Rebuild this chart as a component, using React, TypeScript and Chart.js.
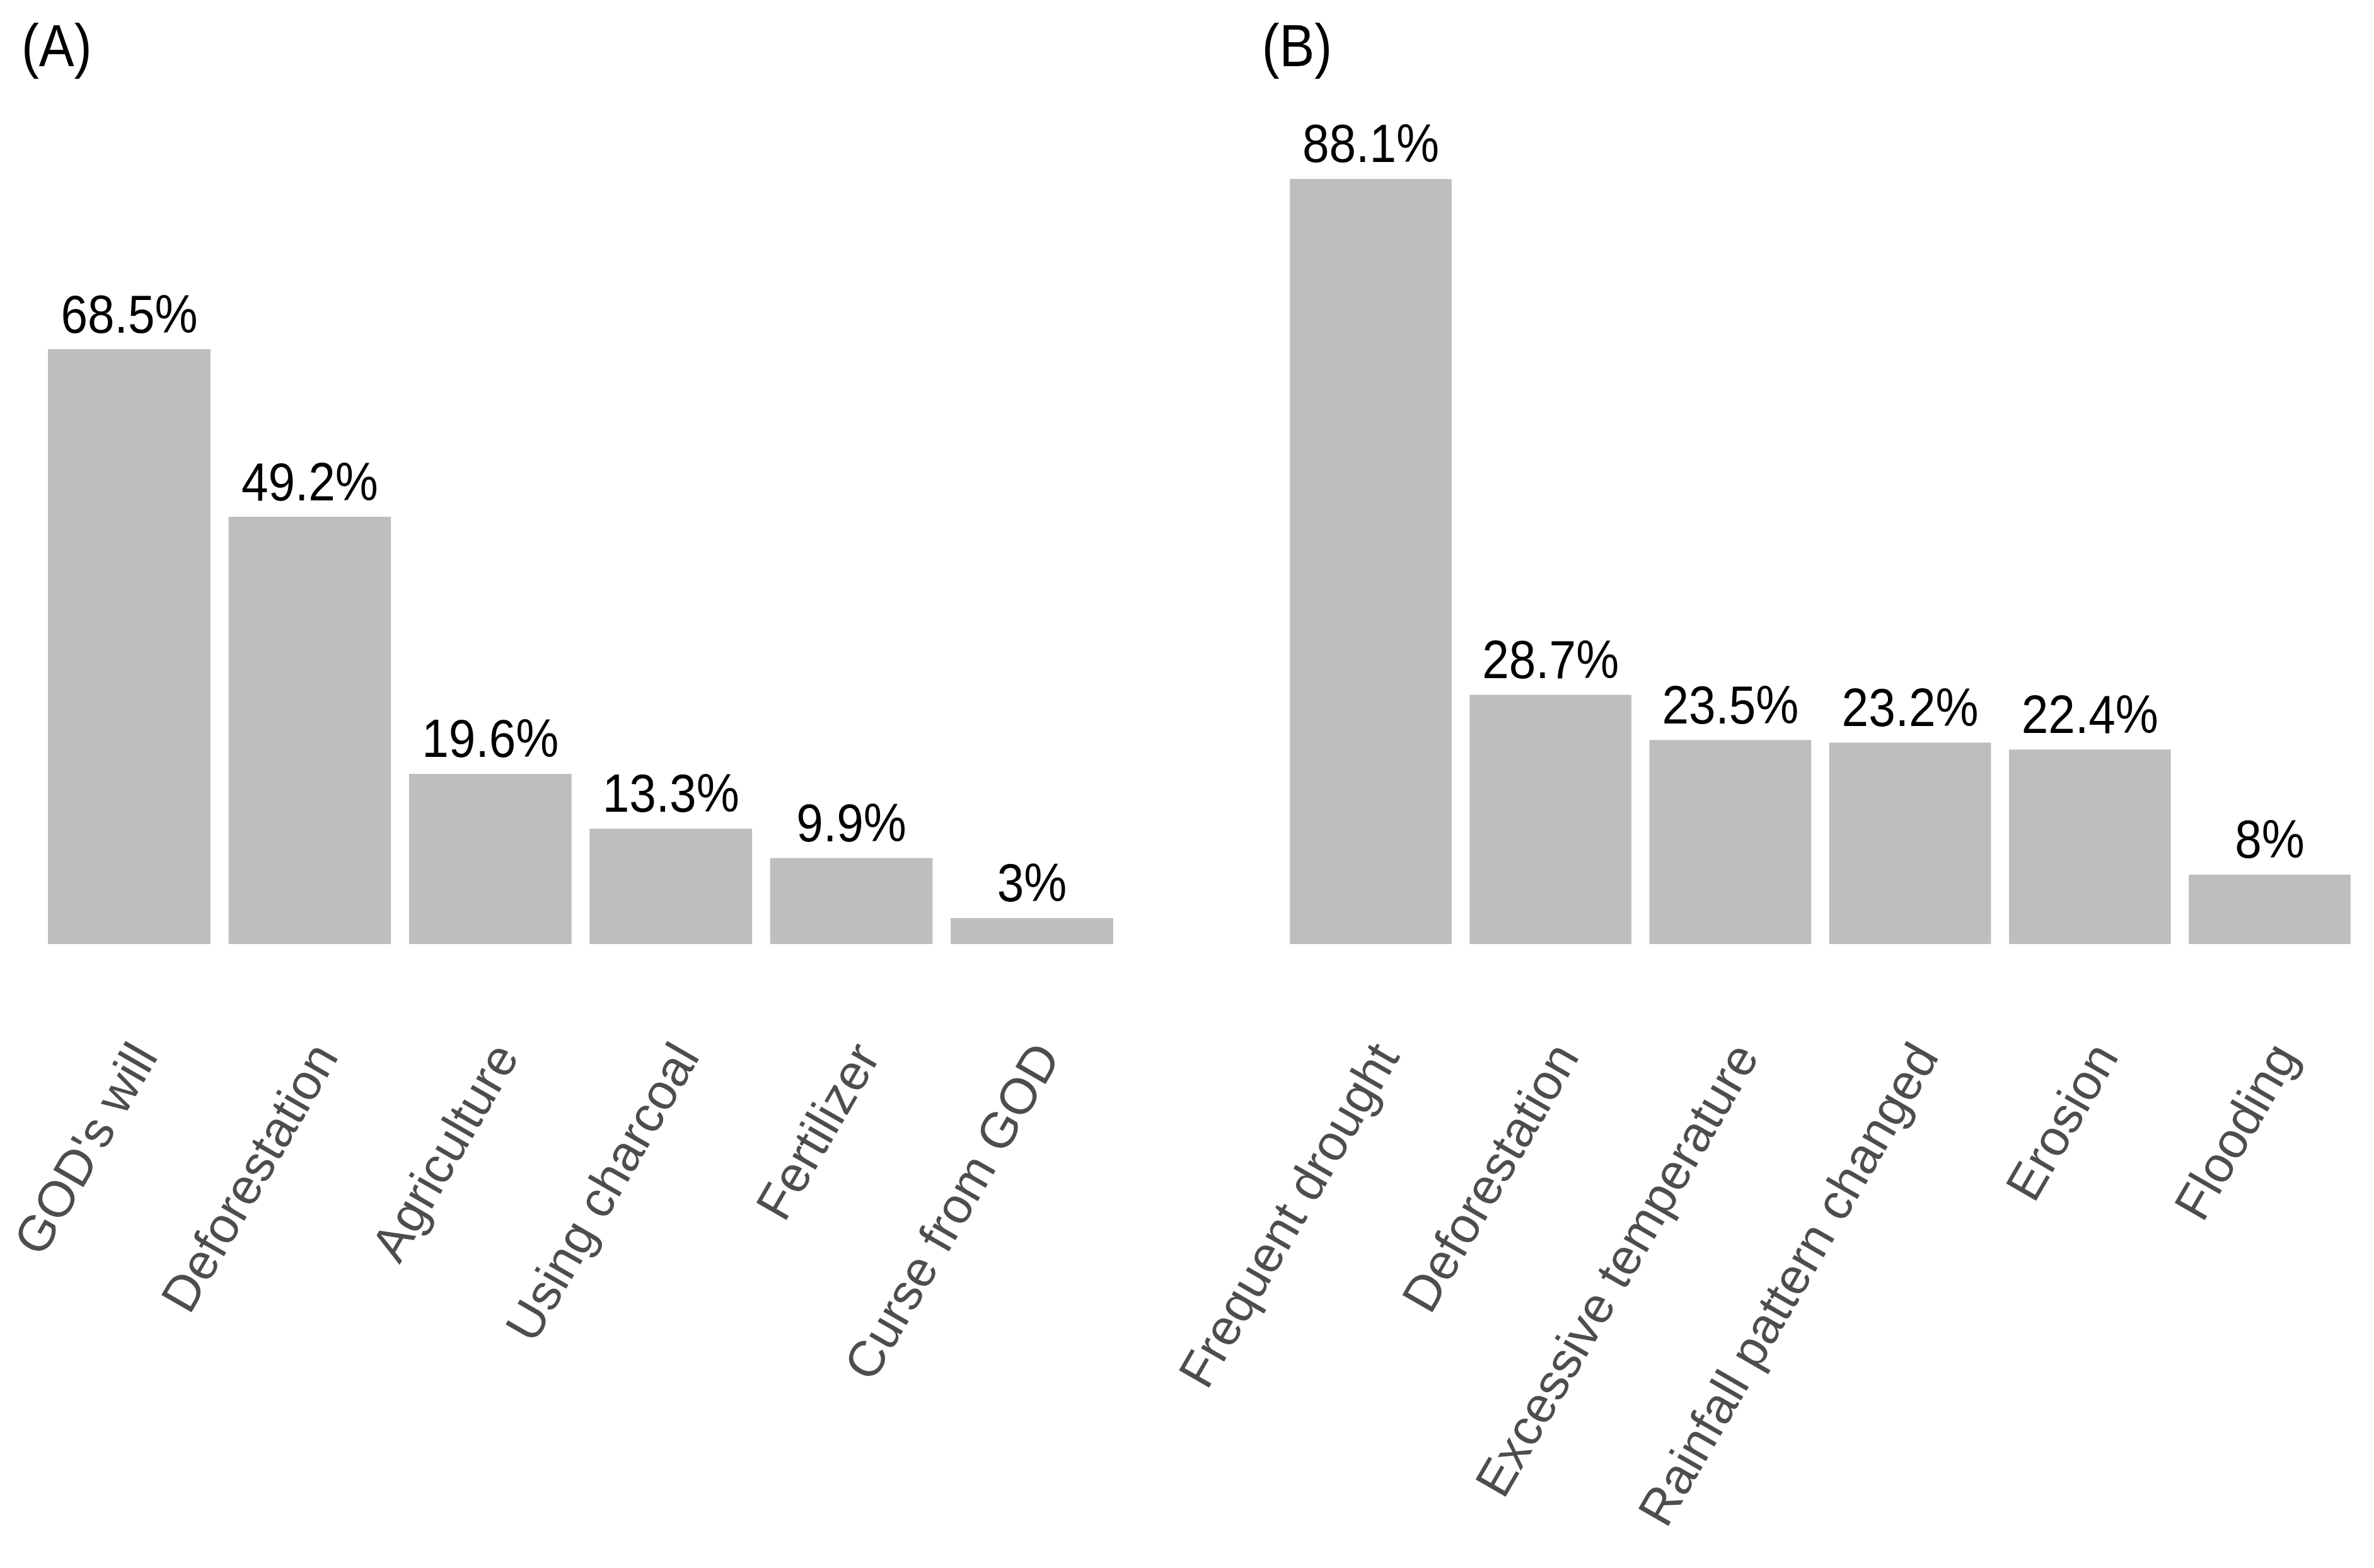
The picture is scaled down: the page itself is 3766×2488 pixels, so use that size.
import React, { useEffect, useRef } from 'react';
import { Chart, registerables } from 'chart.js';

Chart.register(...registerables);

// ---- Data ----
const categoriesA = ["GOD's will", 'Deforestation', 'Agriculture', 'Using charcoal', 'Fertilizer', 'Curse from GOD'];
const valuesA = [68.5, 49.2, 19.6, 13.3, 9.9, 3];

const categoriesB = ['Frequent drought', 'Deforestation', 'Excessive temperature', 'Rainfall pattern changed', 'Erosion', 'Flooding'];
const valuesB = [88.1, 28.7, 23.5, 23.2, 22.4, 8];

const panelTitles = ['(A)', '(B)'];
const yMin = 0;
const yMax = 100;

const FONT = "'Liberation Sans', Arial, Helvetica, sans-serif";
const BAR_COLOR = '#BEBEBE';
const TICK_COLOR = '#4D4D4D';
const H = 2488;

function labelPlugin(title: string, titleX: number) {
  return {
    id: 'valueLabels',
    afterDatasetsDraw(chart: any) {
      const ctx = chart.ctx;
      const meta = chart.getDatasetMeta(0);
      const data = chart.data.datasets[0].data as number[];
      ctx.save();
      ctx.fillStyle = '#000000';
      ctx.font = `86px ${FONT}`;
      ctx.textAlign = 'center';
      ctx.textBaseline = 'alphabetic';
      meta.data.forEach((bar: any, i: number) => {
        ctx.save();
        ctx.translate(bar.x, bar.y - 26.5);
        ctx.scale(0.89, 1);
        ctx.fillText(`${data[i]}%`, 0, 0);
        ctx.restore();
      });
      ctx.restore();
    },
    afterDraw(chart: any) {
      const ctx = chart.ctx;
      ctx.save();
      ctx.fillStyle = '#000000';
      ctx.font = `94px ${FONT}`;
      ctx.textAlign = 'left';
      ctx.textBaseline = 'alphabetic';
      ctx.translate(titleX, 104.5);
      ctx.scale(0.89, 1);
      ctx.fillText(title, 0, 0);
      ctx.restore();
    },
  };
}

function makeConfig(labels: string[], values: number[], padLeft: number, padRight: number, title: string, titleX: number): any {
  return {
    type: 'bar',
    data: {
      labels,
      datasets: [
        {
          data: values,
          backgroundColor: BAR_COLOR,
          borderWidth: 0,
          barPercentage: 0.9,
          categoryPercentage: 1.0,
        },
      ],
    },
    options: {
      responsive: false,
      animation: false,
      devicePixelRatio: 1,
      layout: { padding: { left: padLeft, right: padRight, top: 120, bottom: 0 } },
      plugins: {
        legend: { display: false },
        tooltip: { enabled: false },
        title: { display: false },
      },
      scales: {
        x: {
          type: 'category',
          offset: true,
          grid: { display: false, drawTicks: false },
          border: { display: false },
          ticks: {
            autoSkip: false,
            minRotation: 60,
            maxRotation: 60,
            padding: 143,
            labelOffset: 28,
            color: TICK_COLOR,
            font: { family: FONT, size: 80 },
          },
          afterFit: (s: any) => {
            s.height = H - 1498;
            s.paddingLeft = 0;
            s.paddingRight = 0;
          },
        },
        y: { display: false, min: yMin, max: yMax },
      },
    },
    plugins: [labelPlugin(title, titleX)],
  };
}

function Panel(props: { left: number; width: number; labels: string[]; values: number[]; padLeft: number; padRight: number; title: string; titleX: number }) {
  const ref = useRef<HTMLCanvasElement | null>(null);
  useEffect(() => {
    if (!ref.current) return;
    const chart = new Chart(ref.current, makeConfig(props.labels, props.values, props.padLeft, props.padRight, props.title, props.titleX));
    return () => chart.destroy();
  }, []);
  return (
    <canvas
      ref={ref}
      width={props.width}
      height={H}
      style={{ position: 'absolute', left: props.left, top: 0, width: props.width, height: H }}
    />
  );
}

export default function App() {
  const leftW = 1883;
  const rightLeft = 1700;
  const rightW = 3766 - rightLeft;
  return (
    <div style={{ position: 'absolute', left: 0, top: 0, width: 3766, height: H, background: '#ffffff', overflow: 'hidden' }}>
      <Panel
        left={0}
        width={leftW}
        labels={categoriesA}
        values={valuesA}
        padLeft={61.8}
        padRight={leftW - 1780.2}
        title={panelTitles[0]}
        titleX={34}
      />
      <Panel
        left={rightLeft}
        width={rightW}
        labels={categoriesB}
        values={valuesB}
        padLeft={2031.9 - rightLeft}
        padRight={3766 - 3743.1}
        title={panelTitles[1]}
        titleX={2001.7 - rightLeft}
      />
    </div>
  );
}
